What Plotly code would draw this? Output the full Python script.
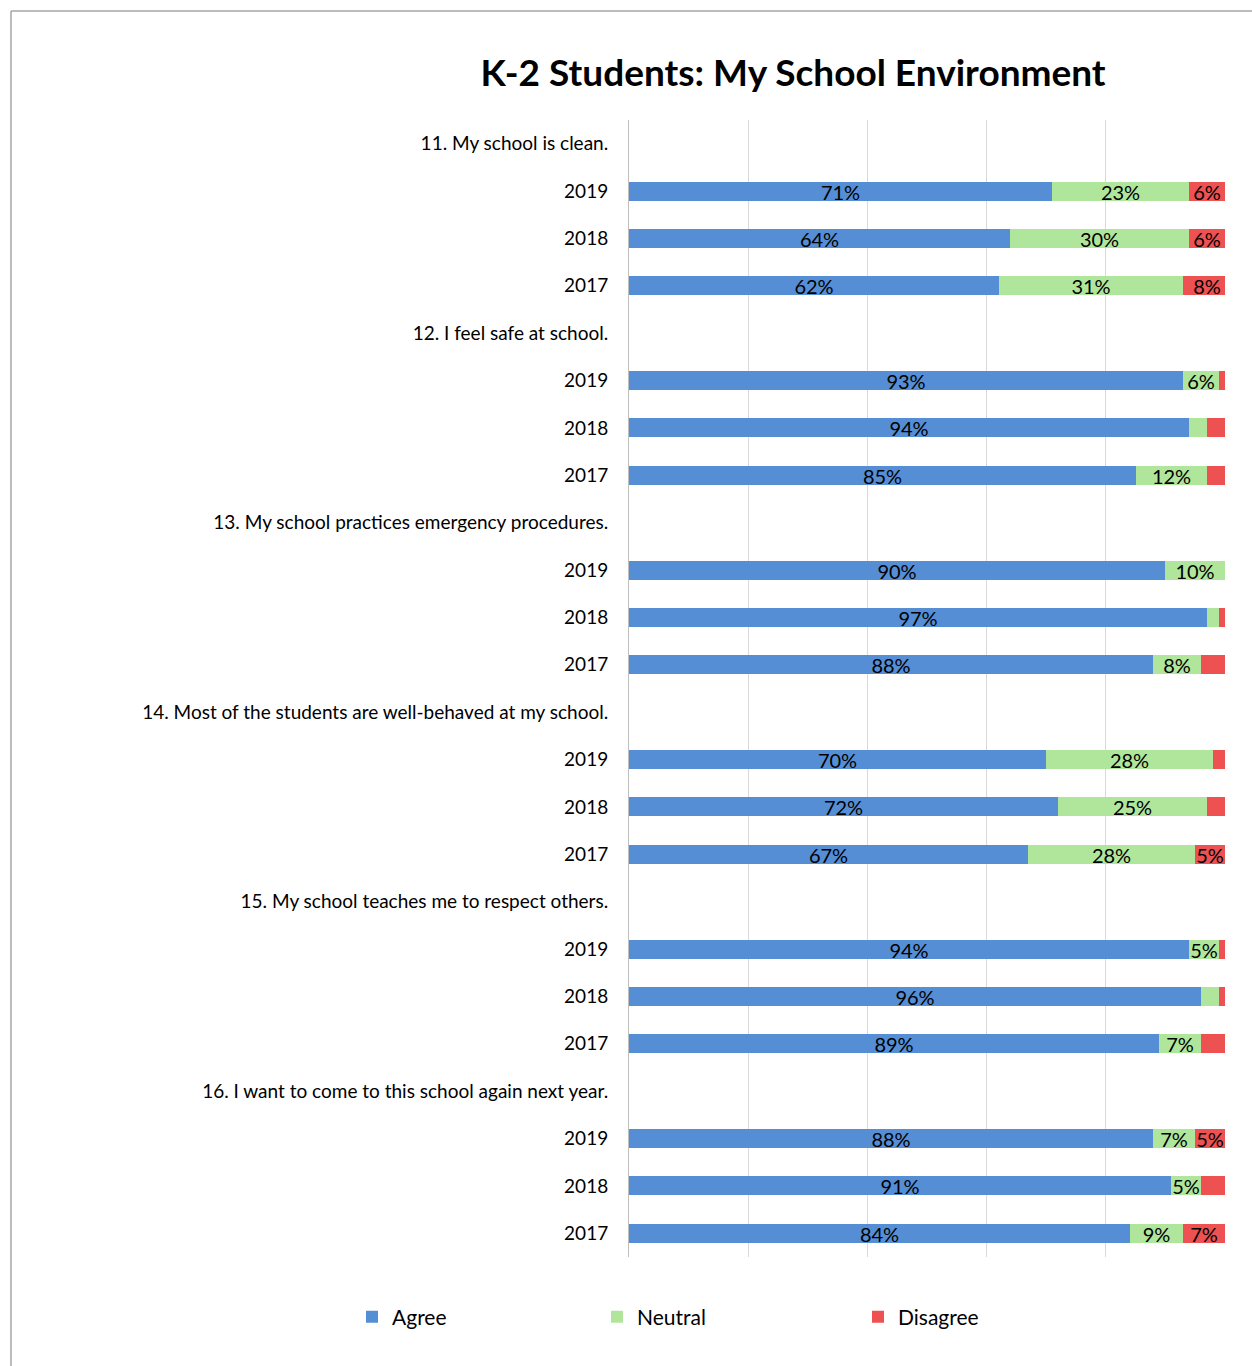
import plotly.graph_objects as go

# Survey items and the years reported under each
questions = [
    "11. My school is clean.",
    "12. I feel safe at school.",
    "13. My school practices emergency procedures.",
    "14. Most of the students are well-behaved at my school.",
    "15. My school teaches me to respect others.",
    "16. I want to come to this school again next year.",
]
years = ["2019", "2018", "2017"]

# Percent of responses per question, in year order 2019, 2018, 2017
agree = [
    [71, 64, 62],
    [93, 94, 85],
    [90, 97, 88],
    [70, 72, 67],
    [94, 96, 89],
    [88, 91, 84],
]
neutral = [
    [23, 30, 31],
    [6, 3, 12],
    [10, 2, 8],
    [28, 25, 28],
    [5, 3, 7],
    [7, 5, 9],
]
disagree = [
    [6, 6, 8],
    [1, 3, 3],
    [0, 1, 4],
    [2, 3, 5],
    [1, 1, 4],
    [5, 4, 7],
]

series_names = ["Agree", "Neutral", "Disagree"]
series_colors = ["#558ED5", "#B0E69B", "#EE5151"]
series_values = [agree, neutral, disagree]
legend_ids = ["legend", "legend2", "legend3"]
legend_left_px = [352, 597, 858]

# Each question gets a header row followed by one row per year
tick_pos, tick_text = [], []
row_pos = []  # row positions for the year bars, flattened
pos = 0
for q in questions:
    tick_pos.append(pos)
    tick_text.append(q)
    pos += 1
    for y in years:
        tick_pos.append(pos)
        tick_text.append(y)
        row_pos.append(pos)
        pos += 1
n_rows = pos

fig = go.Figure()
for name, color, vals, lid in zip(series_names, series_colors, series_values, legend_ids):
    flat = [v for row in vals for v in row]
    labels = [f"{v}%" if v >= 5 else "" for v in flat]
    fig.add_trace(go.Bar(
        name=name,
        orientation="h",
        x=flat,
        y=row_pos,
        marker=dict(color=color, line=dict(width=0)),
        width=0.4,
        text=labels,
        textposition="inside",
        insidetextanchor="middle",
        textangle=0,
        constraintext="none",
        textfont=dict(family="Lato, sans-serif", size=20, color="#000000"),
        hoverinfo="skip",
        legend=lid,
    ))

# Chart frame (top and left edges)
frame_color = "#A6A6A6"
fig.add_shape(type="line", xref="paper", yref="paper",
              x0=(11 - 629) / 596, x1=(1252 - 629) / 596,
              y0=(1257 - 11) / 1137, y1=(1257 - 11) / 1137,
              line=dict(color=frame_color, width=1.5))
fig.add_shape(type="line", xref="paper", yref="paper",
              x0=(11 - 629) / 596, x1=(11 - 629) / 596,
              y0=(1257 - 11) / 1137, y1=(1257 - 1366) / 1137,
              line=dict(color=frame_color, width=1.5))

legend_style = dict(
    orientation="h",
    xanchor="left",
    y=(1257 - 1317) / 1137,
    yanchor="middle",
    font=dict(family="Lato, sans-serif", size=21, color="#000000"),
    bgcolor="rgba(0,0,0,0)",
)

fig.update_layout(
    width=1252,
    height=1366,
    margin=dict(l=629, r=27, t=120, b=109),
    paper_bgcolor="white",
    plot_bgcolor="white",
    barmode="stack",
    bargap=0,
    title=dict(
        text="<b>K-2 Students: My School Environment</b>",
        x=793 / 1252,
        xanchor="center",
        y=1 - 73 / 1366,
        yanchor="middle",
        font=dict(family="Lato, sans-serif", size=37, color="#000000"),
    ),
    xaxis=dict(
        range=[0, 100],
        dtick=20,
        showticklabels=False,
        showgrid=True,
        gridcolor="#D9D9D9",
        gridwidth=1,
        zeroline=False,
        showline=False,
        fixedrange=True,
    ),
    yaxis=dict(
        range=[n_rows - 0.5, -0.5],
        tickmode="array",
        tickvals=tick_pos,
        ticktext=tick_text,
        ticklabelstandoff=16,
        tickfont=dict(family="Lato, sans-serif", size=19, color="#000000"),
        showgrid=False,
        zeroline=False,
        showline=True,
        linecolor="#BFBFBF",
        linewidth=1,
        ticks="",
        fixedrange=True,
    ),
    legend=dict(x=(legend_left_px[0] - 629) / 596, **legend_style),
    legend2=dict(x=(legend_left_px[1] - 629) / 596, **legend_style),
    legend3=dict(x=(legend_left_px[2] - 629) / 596, **legend_style),
    showlegend=True,
)

fig.write_html("out.html")
